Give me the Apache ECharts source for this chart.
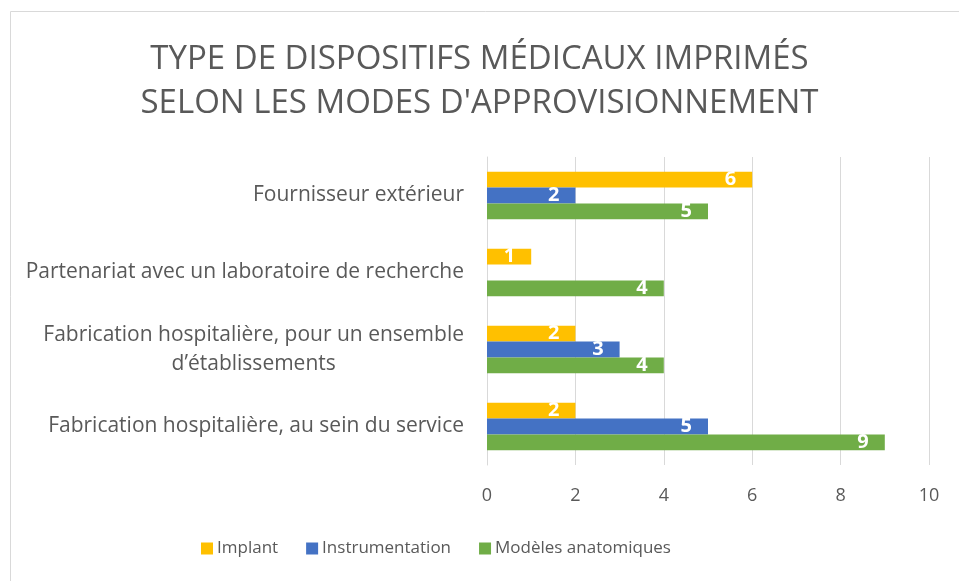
<!DOCTYPE html>
<html>
<head>
<meta charset="utf-8">
<script src="https://cdn.jsdelivr.net/npm/echarts@6/dist/echarts.min.js"></script>
<style>
  html, body { margin: 0; padding: 0; background: #fff; }
  #main { width: 959px; height: 581px; }
</style>
</head>
<body>
<div id="main"></div>
<script>
// données
var categories = [
  'Fabrication hospitalière, au sein du service',
  'Fabrication hospitalière, pour un ensemble\nd\u2019établissements',
  'Partenariat avec un laboratoire de recherche',
  'Fournisseur extérieur'
];
var implant = [2, 2, 1, 6];
var instrumentation = [5, 3, null, 2];
var modeles = [9, 4, 4, 5];
var xTicks = [0, 2, 4, 6, 8, 10];

(function(){
  var myChart = echarts.init(document.getElementById('main'));
  var font = 'Open Sans';
  var labelStyle = {
    show: true,
    position: 'insideRight',
    distance: 16,
    color: '#fff',
    fontFamily: font,
    fontWeight: 'bold',
    fontSize: 20
  };
  function bar(name, data, color) {
    return {
      name: name,
      type: 'bar',
      data: data,
      barGap: '0%',
      barCategoryGap: '38%',
      itemStyle: { color: color },
      label: labelStyle
    };
  }

  var option = {
    animation: false,
    title: {
      text: 'TYPE DE DISPOSITIFS MÉDICAUX IMPRIMÉS\nSELON LES MODES D\'APPROVISIONNEMENT',
      left: 'center',
      top: 33,
      textStyle: {
        color: '#595959',
        fontFamily: font,
        fontWeight: 'normal',
        fontSize: 33,
        lineHeight: 44
      }
    },
    graphic: [{
      type: 'rect',
      shape: { x: 10.5, y: 11.5, width: 960, height: 580 },
      style: { fill: 'none', stroke: '#d9d9d9', lineWidth: 1 },
      silent: true
    }],
    legend: {
      bottom: 19,
      left: 196,
      itemWidth: 12,
      itemHeight: 12,
      itemGap: 28,
      icon: 'rect',
      textStyle: { color: '#595959', fontFamily: font, fontSize: 17, padding: [0, 0, 0, -1] },
      data: ['Implant', 'Instrumentation', 'Modèles anatomiques']
    },
    grid: { left: 487, right: 30, top: 157, bottom: 116, containLabel: false },
    xAxis: {
      type: 'value',
      min: 0,
      max: 10,
      interval: 2,
      axisLine: { show: false },
      axisTick: { show: false },
      splitLine: { lineStyle: { color: '#d9d9d9', width: 1 } },
      axisLabel: {
        color: '#595959', fontFamily: font, fontSize: 18, margin: 22,
        formatter: function (v) { return xTicks.indexOf(v) >= 0 ? String(v) : ''; }
      }
    },
    yAxis: {
      type: 'category',
      data: categories,
      axisLine: { show: true, lineStyle: { color: '#d9d9d9' } },
      axisTick: { show: false },
      axisLabel: {
        margin: 23,
        align: 'right',
        formatter: function (v) {
          return v.split('\n').map(function (l) { return '{c|' + l + '}'; }).join('\n');
        },
        rich: {
          c: {
            color: '#595959', fontFamily: font, fontSize: 21,
            lineHeight: 29, align: 'center'
          }
        }
      }
    },
    series: [
      bar('Implant', implant, '#FFC000'),
      bar('Instrumentation', instrumentation, '#4472C4'),
      bar('Modèles anatomiques', modeles, '#70AD47')
    ]
  };
  myChart.setOption(option);
})();
</script>
</body>
</html>
